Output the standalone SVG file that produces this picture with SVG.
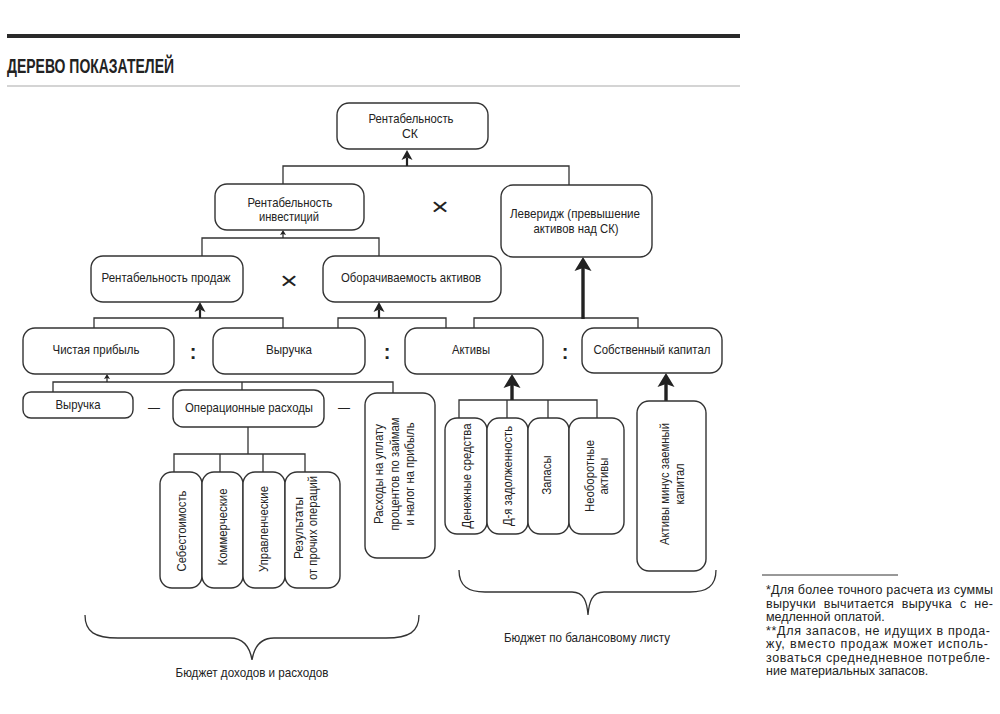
<svg xmlns="http://www.w3.org/2000/svg" width="1000" height="714" viewBox="0 0 1000 714">
<defs>
<style>
.box{fill:#fff;stroke:#333;stroke-width:1.4}
.ln{fill:none;stroke:#333;stroke-width:1.3}
.a1{fill:none;stroke:#222;stroke-width:1.2;marker-end:url(#ah1)}
.a2{fill:none;stroke:#222;stroke-width:2.2;marker-end:url(#ah2)}
.a3{fill:none;stroke:#222;stroke-width:3.4;marker-end:url(#ah3)}
.t{font-family:"Liberation Sans",Arial,sans-serif;font-size:13.5px;fill:#222;text-anchor:middle}
.op{font-family:"Liberation Sans",Arial,sans-serif;fill:#222;text-anchor:middle}
.fn{font-family:"Liberation Sans",Arial,sans-serif;font-size:12.5px;fill:#222}
</style>
<marker id="ah1" markerUnits="userSpaceOnUse" viewBox="-1 -5 8 10" markerWidth="8" markerHeight="10" refX="1" refY="0" orient="auto">
<path d="M0,-3 L5,0 L0,3 L1,0 Z" fill="#222"/>
</marker>
<marker id="ah2" markerUnits="userSpaceOnUse" viewBox="-1 -7 13 14" markerWidth="13" markerHeight="14" refX="2.5" refY="0" orient="auto">
<path d="M0,-5.5 L10,0 L0,5.5 L2.5,0 Z" fill="#222"/>
</marker>
<marker id="ah3" markerUnits="userSpaceOnUse" viewBox="-1 -10 17 20" markerWidth="17" markerHeight="20" refX="3" refY="0" orient="auto">
<path d="M0,-8.5 L14,0 L0,8.5 L3,0 Z" fill="#222"/>
</marker>
</defs>
<rect width="1000" height="714" fill="#fff"/>

<g id="header">
<line x1="7" y1="36" x2="740" y2="36" stroke="#2a2a2a" stroke-width="4"/>
<text x="7" y="73" font-family="Liberation Sans, Arial, sans-serif" font-weight="bold" font-size="21" fill="#222" textLength="167" lengthAdjust="spacingAndGlyphs">ДЕРЕВО ПОКАЗАТЕЛЕЙ</text>
<line x1="7" y1="86" x2="740" y2="86" stroke="#aaa" stroke-width="1.2"/>
</g>

<g id="connectors">
<path class="ln" d="M283,185 V166 H569 V185"/>
<line class="a2" x1="407" y1="166" x2="407" y2="157.5"/>
<path class="ln" d="M202,256 V238 H379 V256"/>
<line class="a1" x1="283" y1="238" x2="283" y2="234"/>
<path class="ln" d="M94,328 V318 H283 V328"/>
<line class="a2" x1="200" y1="318" x2="200" y2="309.5"/>
<path class="ln" d="M338,328 V318 H446 V328"/>
<line class="a2" x1="379" y1="318" x2="379" y2="309.5"/>
<path class="ln" d="M474,328 V318 H638 V328"/>
<line class="a3" x1="583" y1="319" x2="583" y2="268"/>
<path class="ln" d="M53,392 V382 H393 V393 M242,382 V390"/>
<line class="a1" x1="107" y1="382" x2="107" y2="378"/>
<path class="ln" d="M248,427 V454 M174,472 V454 H305 V472 M220,454 V472 M263,454 V472"/>
<path class="ln" d="M459,418 V400 H597 V418 M507,400 V418 M548,400 V418"/>
<line class="a3" x1="512" y1="400" x2="512" y2="385"/>
<line class="a3" x1="666" y1="401" x2="666" y2="384"/>
</g>

<g id="n_roe"><rect class="box" x="337" y="103" width="151" height="46" rx="12"/>
<text class="t" x="411" y="123" textLength="85" lengthAdjust="spacingAndGlyphs">Рентабельность</text>
<text class="t" x="410" y="138" textLength="16" lengthAdjust="spacingAndGlyphs">СК</text></g>

<g id="n_roi"><rect class="box" x="215" y="184" width="149" height="46" rx="12"/>
<text class="t" x="290" y="207" textLength="85" lengthAdjust="spacingAndGlyphs">Рентабельность</text>
<text class="t" x="289" y="221" textLength="60" lengthAdjust="spacingAndGlyphs">инвестиций</text></g>

<g id="n_lev"><rect class="box" x="501" y="185" width="151" height="72" rx="12"/>
<text class="t" x="575" y="218" textLength="130" lengthAdjust="spacingAndGlyphs">Леверидж (превышение</text>
<text class="t" x="576" y="233" textLength="85" lengthAdjust="spacingAndGlyphs">активов над СК)</text></g>

<g id="n_ros"><rect class="box" x="91" y="256" width="152" height="46" rx="12"/>
<text class="t" x="166" y="282" textLength="129" lengthAdjust="spacingAndGlyphs">Рентабельность продаж</text></g>

<g id="n_turn"><rect class="box" x="323" y="256" width="178" height="46" rx="12"/>
<text class="t" x="411" y="282" textLength="140" lengthAdjust="spacingAndGlyphs">Оборачиваемость активов</text></g>

<g id="n_np"><rect class="box" x="23" y="328" width="151" height="46" rx="12"/>
<text class="t" x="96" y="354" textLength="87" lengthAdjust="spacingAndGlyphs">Чистая прибыль</text></g>

<g id="n_rev"><rect class="box" x="213" y="328" width="152" height="46" rx="12"/>
<text class="t" x="289" y="354" textLength="46" lengthAdjust="spacingAndGlyphs">Выручка</text></g>

<g id="n_assets"><rect class="box" x="405" y="328" width="138" height="46" rx="12"/>
<text class="t" x="471" y="354" textLength="38" lengthAdjust="spacingAndGlyphs">Активы</text></g>

<g id="n_equity"><rect class="box" x="582" y="328" width="140" height="45" rx="12"/>
<text class="t" x="652" y="354" textLength="117" lengthAdjust="spacingAndGlyphs">Собственный капитал</text></g>

<g id="n_rev2"><rect class="box" x="23" y="392" width="110" height="26" rx="8"/>
<text class="t" x="78" y="409" textLength="45" lengthAdjust="spacingAndGlyphs">Выручка</text></g>

<g id="n_opex"><rect class="box" x="173" y="390" width="151" height="37" rx="10"/>
<text class="t" x="249" y="412" textLength="128" lengthAdjust="spacingAndGlyphs">Операционные расходы</text></g>

<g id="n_int"><rect class="box" x="365" y="393" width="70" height="165" rx="12"/>
<text class="t" transform="translate(383,474) rotate(-90)" textLength="100" lengthAdjust="spacingAndGlyphs">Расходы на уплату</text>
<text class="t" transform="translate(399,474) rotate(-90)" textLength="113" lengthAdjust="spacingAndGlyphs">процентов по займам</text>
<text class="t" transform="translate(414,474) rotate(-90)" textLength="103" lengthAdjust="spacingAndGlyphs">и налог на прибыль</text></g>

<g id="n_cogs"><rect class="box" x="160" y="472" width="42" height="116" rx="12"/>
<text class="t" transform="translate(186,531) rotate(-90)" textLength="81" lengthAdjust="spacingAndGlyphs">Себестоимость</text></g>

<g id="n_comm"><rect class="box" x="202" y="472" width="41" height="116" rx="12"/>
<text class="t" transform="translate(227,527) rotate(-90)" textLength="77" lengthAdjust="spacingAndGlyphs">Коммерческие</text></g>

<g id="n_adm"><rect class="box" x="243" y="472" width="42" height="116" rx="12"/>
<text class="t" transform="translate(268,529) rotate(-90)" textLength="86" lengthAdjust="spacingAndGlyphs">Управленческие</text></g>

<g id="n_other"><rect class="box" x="285" y="472" width="55" height="116" rx="12"/>
<text class="t" transform="translate(303,528) rotate(-90)" textLength="62" lengthAdjust="spacingAndGlyphs">Результаты</text>
<text class="t" transform="translate(317,528) rotate(-90)" textLength="104" lengthAdjust="spacingAndGlyphs">от прочих операций</text></g>

<g id="n_cash"><rect class="box" x="445" y="418" width="42" height="116" rx="12"/>
<text class="t" transform="translate(471,476) rotate(-90)" textLength="105" lengthAdjust="spacingAndGlyphs">Денежные средства</text></g>

<g id="n_recv"><rect class="box" x="487" y="418" width="41" height="116" rx="12"/>
<text class="t" transform="translate(512,476) rotate(-90)" textLength="100" lengthAdjust="spacingAndGlyphs">Д-я задолженность</text></g>

<g id="n_inv"><rect class="box" x="528" y="418" width="41" height="116" rx="12"/>
<text class="t" transform="translate(551,475) rotate(-90)" textLength="39" lengthAdjust="spacingAndGlyphs">Запасы</text></g>

<g id="n_fixed"><rect class="box" x="569" y="418" width="55" height="116" rx="12"/>
<text class="t" transform="translate(594,476) rotate(-90)" textLength="72" lengthAdjust="spacingAndGlyphs">Необоротные</text>
<text class="t" transform="translate(608,476) rotate(-90)" textLength="37" lengthAdjust="spacingAndGlyphs">активы</text></g>

<g id="n_eqcalc"><rect class="box" x="637" y="401" width="69" height="170" rx="12"/>
<text class="t" transform="translate(669,484) rotate(-90)" textLength="122" lengthAdjust="spacingAndGlyphs">Активы минус заемный</text>
<text class="t" transform="translate(684,484) rotate(-90)" textLength="41" lengthAdjust="spacingAndGlyphs">капитал</text></g>

<g id="operators">
<text class="op" x="440" y="214.5" font-size="23" font-weight="300" textLength="18" lengthAdjust="spacingAndGlyphs">×</text>
<text class="op" x="289" y="288.5" font-size="23" font-weight="300" textLength="18" lengthAdjust="spacingAndGlyphs">×</text>
<text class="op" x="193" y="359" font-size="20" font-weight="bold">:</text>
<text class="op" x="387" y="359" font-size="20" font-weight="bold">:</text>
<text class="op" x="565" y="359" font-size="20" font-weight="bold">:</text>
<text class="op" x="154" y="412" font-size="12">—</text>
<text class="op" x="344" y="412" font-size="12">—</text>
</g>

<g id="braces">
<path class="ln" d="M85,615 C85,632 95,638 118,638 L230,638 C244,638 250,648 252,660 C254,648 260,638 274,638 L386,638 C409,638 419,632 419,615"/>
<text class="t" x="252" y="677" textLength="153" lengthAdjust="spacingAndGlyphs">Бюджет доходов и расходов</text>
<path class="ln" d="M459,570 C459,586 468,592 485,592 L572,592 C584,592 587,602 588,615 C589,602 592,592 604,592 L690,592 C707,592 716,586 716,570"/>
<text class="t" x="587" y="642" textLength="166" lengthAdjust="spacingAndGlyphs">Бюджет по балансовому листу</text>
</g>

<g id="footnote">
<line x1="762" y1="575" x2="898" y2="575" stroke="#333" stroke-width="1"/>
<text class="fn" x="766" y="594" textLength="227" lengthAdjust="spacing">*Для более точного расчета из суммы</text>
<text class="fn" x="766" y="607.5" textLength="227" lengthAdjust="spacing" word-spacing="4">выручки вычитается выручка с не-</text>
<text class="fn" x="766" y="621">медленной оплатой.</text>
<text class="fn" x="766" y="634.5" textLength="224" lengthAdjust="spacing">**Для запасов, не идущих в прода-</text>
<text class="fn" x="766" y="648" textLength="222" lengthAdjust="spacing">жу, вместо продаж может исполь-</text>
<text class="fn" x="766" y="661.5" textLength="224" lengthAdjust="spacing">зоваться среднедневное потребле-</text>
<text class="fn" x="766" y="675">ние материальных запасов.</text>
</g>
</svg>
